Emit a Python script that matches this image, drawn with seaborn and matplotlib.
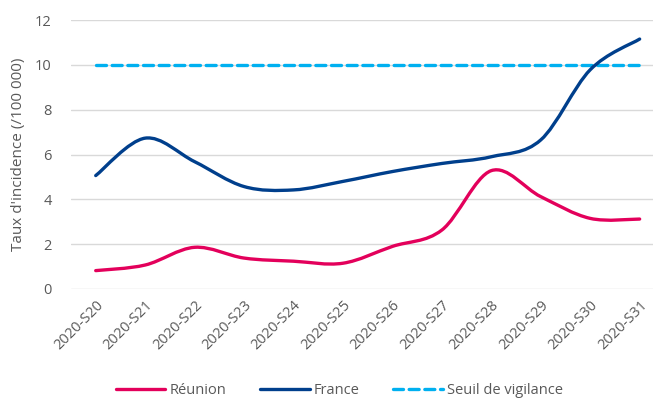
import numpy as np
import pandas as pd
import seaborn as sns
import matplotlib.pyplot as plt
from matplotlib.path import Path
from matplotlib.patches import PathPatch
from matplotlib.lines import Line2D

weeks = ["2020-S20", "2020-S21", "2020-S22", "2020-S23", "2020-S24", "2020-S25",
         "2020-S26", "2020-S27", "2020-S28", "2020-S29", "2020-S30", "2020-S31"]
reunion = [0.82, 1.07, 1.86, 1.38, 1.24, 1.15, 1.9, 2.63, 5.28, 4.12, 3.15, 3.12]
france = [5.06, 6.73, 5.68, 4.57, 4.42, 4.8, 5.24, 5.6, 5.9, 6.65, 9.78, 11.15]
seuil = [10] * 12

sns.set_theme(style="white")
plt.rcParams['font.family'] = ['Open Sans', 'DejaVu Sans']

c_reu = "#E3005B"
c_fra = "#003F8C"
c_seuil = "#00B0F0"
grey = "#595959"

df = pd.DataFrame({"week": weeks, "x": range(len(weeks)), "seuil": seuil})

fig = plt.figure(figsize=(6.53, 4.0), dpi=100)
ax = fig.add_axes([71 / 653, 1 - 289 / 400, (653 - 71) / 653, (289 - 20) / 400])


def smooth_path(xs, ys):
    # Excel-style smoothed line: cubic Bezier segments through each point
    pts = np.column_stack([xs, ys]).astype(float)
    n = len(pts)
    verts = [pts[0]]
    codes = [Path.MOVETO]
    for i in range(n - 1):
        p0 = pts[i - 1] if i > 0 else pts[i]
        p1 = pts[i]
        p2 = pts[i + 1]
        p3 = pts[i + 2] if i + 2 < n else pts[i + 1]
        c1 = p1 + (p2 - p0) / 6
        c2 = p2 - (p3 - p1) / 6
        verts += [c1, c2, p2]
        codes += [Path.CURVE4] * 3
    return Path(verts, codes)


for vals, col in [(reunion, c_reu), (france, c_fra)]:
    patch = PathPatch(smooth_path(df["x"], vals), facecolor="none", edgecolor=col,
                      lw=2.4, capstyle="round", joinstyle="round", zorder=3)
    ax.add_patch(patch)

sns.lineplot(data=df, x="x", y="seuil", ax=ax, color=c_seuil, lw=2.4,
             dashes=False, zorder=2)
ax.lines[-1].set_dashes((3.0, 1.7))
ax.lines[-1].set_dash_capstyle("round")

ax.set_xlim(-0.5, 11.27)
ax.set_ylim(0, 12)
ax.set_yticks(range(0, 13, 2))
ax.set_xticks(df["x"])
ax.set_xticklabels(weeks, rotation=45, ha="right", rotation_mode="anchor")
ax.grid(axis="y", color="#D9D9D9", lw=1)
ax.set_axisbelow(True)
for s in ax.spines.values():
    s.set_visible(False)
ax.tick_params(axis="both", length=0, labelsize=10.5, labelcolor=grey)
ax.tick_params(axis="y", pad=14)
ax.tick_params(axis="x", pad=6)
ax.set_xlabel("")
ax.set_ylabel("Taux d'incidence (/100 000)", fontsize=11, color=grey, labelpad=6)

handles = [Line2D([], [], color=c_reu, lw=2.4),
           Line2D([], [], color=c_fra, lw=2.4),
           Line2D([], [], color=c_seuil, lw=2.4, dashes=(3.0, 1.7), dash_capstyle="round")]
fig.legend(handles, ["Réunion", "France", "Seuil de vigilance"], loc="center",
           bbox_to_anchor=(0.52, 1 - 391 / 400), ncol=3, frameon=False,
           fontsize=10.5, labelcolor=grey, handlelength=3.4, columnspacing=2.3,
           handletextpad=0.3)

fig.savefig("out.png", dpi=100)
